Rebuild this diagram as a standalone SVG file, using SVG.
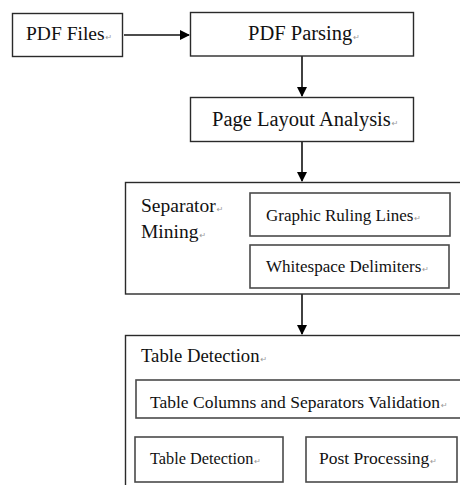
<svg xmlns="http://www.w3.org/2000/svg" width="460" height="485" viewBox="0 0 460 485">
<style>
.box{fill:#fff;stroke:#2a2a2a;stroke-width:1.4}
.inner{fill:#fff;stroke:#4a4a4a;stroke-width:1.6}
text{font-family:'Liberation Serif','DejaVu Serif',serif;fill:#111}
.pm{font-family:'DejaVu Sans',sans-serif;font-size:8px;fill:#999}
.conn{stroke:#111;stroke-width:1.6;fill:none}
</style>
<defs>
<marker id="ah" markerWidth="10" markerHeight="10" refX="9" refY="5" orient="auto" markerUnits="userSpaceOnUse">
<path d="M0,0 L10,5 L0,10 Z" fill="#000"/>
</marker>
</defs>
<rect width="460" height="485" fill="#fff"/>
<g id="connectors">
<line class="conn" x1="124" y1="35" x2="189" y2="35" marker-end="url(#ah)"/>
<line class="conn" x1="302" y1="56" x2="302" y2="96" marker-end="url(#ah)"/>
<line class="conn" x1="302" y1="142" x2="302" y2="181" marker-end="url(#ah)"/>
<line class="conn" x1="302" y1="294" x2="302" y2="334" marker-end="url(#ah)"/>
</g>
<g id="pdf-files">
<rect class="box" x="12.5" y="13.5" width="110" height="43"/>
<text x="26" y="40" font-size="19.5" font-family="Liberation Serif, serif">PDF Files<tspan class="pm" dx="1">↵</tspan></text>
</g>
<g id="pdf-parsing">
<rect class="box" x="190.5" y="12.5" width="223" height="43.5"/>
<text x="248" y="40" font-size="20.5">PDF Parsing<tspan class="pm" dx="1">↵</tspan></text>
</g>
<g id="page-layout">
<rect class="box" x="190.5" y="97.5" width="223" height="44"/>
<text x="212" y="126" font-size="20.5">Page Layout Analysis<tspan class="pm" dx="1">↵</tspan></text>
</g>
<g id="separator-mining">
<rect class="box" x="125.5" y="182.5" width="340" height="111.5"/>
<text x="141" y="212" font-size="19.5">Separator<tspan class="pm" dx="1">↵</tspan></text>
<text x="141" y="238" font-size="19.5">Mining<tspan class="pm" dx="1">↵</tspan></text>
</g>
<g id="graphic-ruling-lines">
<rect class="inner" x="250" y="193" width="200" height="43"/>
<text x="266" y="221" font-size="17">Graphic Ruling Lines<tspan class="pm" dx="1">↵</tspan></text>
</g>
<g id="whitespace-delimiters">
<rect class="inner" x="250" y="245" width="199" height="43"/>
<text x="266" y="272" font-size="17">Whitespace Delimiters<tspan class="pm" dx="1">↵</tspan></text>
</g>
<g id="table-detection-group">
<rect class="box" x="125.5" y="335.5" width="340" height="160"/>
<text x="141" y="362" font-size="18.7">Table Detection<tspan class="pm" dx="1">↵</tspan></text>
</g>
<g id="table-columns-validation">
<rect class="inner" x="136" y="380" width="330" height="38"/>
<text x="150" y="408" font-size="17.5">Table Columns and Separators Validation<tspan class="pm" dx="1">↵</tspan></text>
</g>
<g id="table-detection">
<rect class="inner" x="135" y="437" width="148" height="45"/>
<text x="150" y="464" font-size="16.3">Table Detection<tspan class="pm" dx="1">↵</tspan></text>
</g>
<g id="post-processing">
<rect class="inner" x="306" y="437" width="151" height="45"/>
<text x="319" y="464" font-size="17.5">Post Processing<tspan class="pm" dx="1">↵</tspan></text>
</g>
</svg>
